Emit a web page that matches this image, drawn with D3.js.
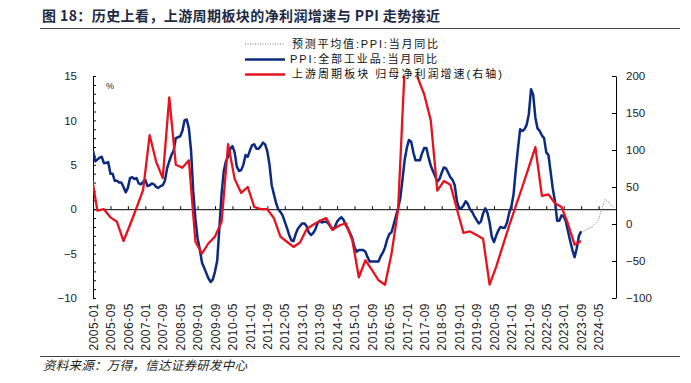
<!DOCTYPE html>
<html><head><meta charset="utf-8">
<script src="https://cdn.jsdelivr.net/npm/d3@7"></script>
<style>
body{margin:0;background:#fff;}
svg{display:block;}
text{font-family:"Liberation Sans",Arial,sans-serif;}
.cjk{font-family:"Noto Sans CJK SC","Noto Sans",sans-serif;}
.leg{font-family:"Liberation Sans","Noto Sans CJK SC",sans-serif;}
</style></head>
<body>
<script>
// ---------- data ----------
const ppiStart = "2005-01";
const ppiValues = [
 6.6,5.4,5.6,5.8,5.9,5.2,5.2,5.3,4.0,4.0,3.2,3.2,
 3.0,3.0,2.5,1.9,2.4,3.5,3.6,3.4,3.5,2.9,2.8,3.1,
 3.3,2.6,2.7,2.9,2.8,2.5,2.4,2.6,2.7,3.2,4.6,5.4,
 6.1,6.6,8.0,8.1,8.2,8.8,10.0,10.1,9.1,6.6,2.0,-1.1,
 -3.3,-4.5,-6.0,-6.6,-7.2,-7.8,-8.2,-7.9,-7.0,-5.8,-2.1,1.7,
 4.3,5.4,5.9,6.8,7.1,6.4,4.8,4.3,4.4,5.0,6.1,5.9,
 6.6,7.2,7.3,6.8,6.8,7.1,7.5,7.3,6.5,5.0,2.7,1.7,
 0.7,0.0,-0.3,-0.7,-1.4,-2.1,-2.9,-3.5,-3.6,-2.8,-2.2,-1.9,
 -1.6,-1.6,-1.9,-2.6,-2.9,-2.7,-2.3,-1.6,-1.3,-1.5,-1.4,-1.4,
 -1.6,-2.0,-2.3,-2.0,-1.4,-1.1,-0.9,-1.2,-1.8,-2.2,-2.7,-3.3,
 -4.3,-4.8,-4.6,-4.6,-4.6,-4.8,-5.4,-5.9,-5.9,-5.9,-5.9,-5.9,
 -5.3,-4.9,-4.3,-3.4,-2.8,-2.6,-1.7,-0.8,0.1,1.2,3.3,5.5,
 6.9,7.8,7.6,6.4,5.5,5.5,5.5,6.3,6.9,6.9,5.8,4.9,
 4.3,3.7,3.1,3.4,4.1,4.7,4.6,4.1,3.6,3.3,2.7,0.9,
 0.1,0.1,0.4,0.9,0.6,0.0,-0.3,-0.8,-1.2,-1.6,-1.4,-0.5,
 0.1,-0.4,-1.5,-3.1,-3.7,-3.0,-2.4,-2.0,-2.1,-2.1,-1.5,-0.4,
 0.3,1.7,4.4,6.8,9.0,8.8,9.0,9.5,10.7,13.5,12.9,10.3,
 9.1,8.8,8.3,8.0,6.4,6.1,4.2,2.3,0.9,-1.3,-1.3,-0.7,
 -0.8,-1.4,-2.5,-3.6,-4.6,-5.4,-4.4,-3.0,-2.5
];
const forecastStart = "2023-09";
const forecastValues = [-2.5,-2.5,-2.4,-2.2,-2.1,-2.0,-1.7,-1.5,-1.2,-0.3,0.4,1.1,0.9,0.7,0.4,0.15];
const profitStart = "2004-12"; // quarterly points
const profitValues = [
 72,18,20,9,3,
 -23,-1,22,46,
 120,84,62,171,
 80,76,86,-24,
 -40,-26,-17,3,
 108,61,42,50,
 23,20,20,8,
 -17,-24,-31,-25,
 -7,-1,4,8,
 -8,-2,1,-22,
 -72,-49,-62,-76,
 -82,-40,19,210,
 280,198,175,140,
 45,58,53,20,
 -12,-10,-15,-20,
 -82,-58,-30,-2,
 24,50,77,104,
 38,40,28,23,
 0,-28,-23
];
const xTickLabels = ["2005-01","2005-09","2006-05","2007-01","2007-09","2008-05","2009-01","2009-09","2010-05","2011-01","2011-09","2012-05","2013-01","2013-09","2014-05","2015-01","2015-09","2016-05","2017-01","2017-09","2018-05","2019-01","2019-09","2020-05","2021-01","2021-09","2022-05","2023-01","2023-09","2024-05"];
const leftTicks = [-10,-5,0,5,10,15];
const rightTicks = [-100,-50,0,50,100,150,200];
const legendLabels = ["预测平均值:PPI:当月同比","PPI:全部工业品:当月同比","上游周期板块 归母净利润增速(右轴)"];
const titleText = "图 18：历史上看，上游周期板块的净利润增速与 PPI 走势接近";
const sourceText = "资料来源：万得，信达证券研发中心";

// ---------- helpers ----------
const mIndex = s => { const [y,m] = s.split("-").map(Number); return (y-2005)*12 + (m-1); };
const series = (start, vals, step) => vals.map((v,i) => ({m: mIndex(start) + i*step, v}));
const ppi = series(ppiStart, ppiValues, 1);
const fc = series(forecastStart, forecastValues, 1);
const profit = series(profitStart, profitValues, 3);

const W = 691, H = 383;
const L = 93, R = 616, T = 76, B = 298;
const x = d3.scaleLinear().domain([0,240]).range([L,R]);
const yL = d3.scaleLinear().domain([-10,15]).range([B,T]);
const yR = d3.scaleLinear().domain([-100,200]).range([B,T]);

const svg = d3.select("body").append("svg").attr("width",W).attr("height",H);

// title
svg.append("text").attr("class","cjk").attr("x",42).attr("y",21)
  .attr("font-size",14).attr("font-weight","bold").attr("fill","#1f2a44")
  .attr("textLength",398).attr("lengthAdjust","spacing").text(titleText);
svg.append("line").attr("x1",40).attr("x2",680).attr("y1",28.5).attr("y2",28.5).attr("stroke","#444").attr("stroke-width",1);

// clip
svg.append("clipPath").attr("id","plot").append("rect").attr("x",L).attr("y",T).attr("width",R-L).attr("height",B-T);

// axes
const gx = svg.append("g").attr("transform",`translate(0,${yL(0)})`)
  .call(d3.axisTop(x).tickValues(xTickLabels.map(mIndex)).tickSize(3).tickSizeOuter(0).tickFormat(""));
const gl = svg.append("g").attr("transform",`translate(${L},0)`)
  .call(d3.axisRight(yL).tickValues(d3.range(-10,16)).tickSize(3).tickSizeOuter(0).tickFormat(""));
const gr = svg.append("g").attr("transform",`translate(${R},0)`)
  .call(d3.axisLeft(yR).tickValues(rightTicks).tickSize(4).tickSizeOuter(0).tickFormat(""));
[gx,gl,gr].forEach(g=>{g.selectAll("path,line").attr("stroke","#000").attr("stroke-width",1);});

// labels
const glab = svg.append("g").attr("transform",`translate(${L},0)`)
  .call(d3.axisLeft(yL).tickValues(leftTicks).tickSize(0).tickPadding(16));
glab.select(".domain").remove();
glab.selectAll("text").attr("font-size",11.5).attr("fill","#222").attr("font-family","Liberation Sans, Arial, sans-serif");
const grlab = svg.append("g").attr("transform",`translate(${R},0)`)
  .call(d3.axisRight(yR).tickValues(rightTicks).tickSize(0).tickPadding(10));
grlab.select(".domain").remove();
grlab.selectAll("text").attr("font-size",11.5).attr("fill","#222").attr("font-family","Liberation Sans, Arial, sans-serif");
const gxl = svg.append("g").attr("transform","translate(0,303)")
  .call(d3.axisBottom(x).tickValues(xTickLabels.map(mIndex)).tickSize(0).tickFormat((d,i)=>xTickLabels[i]));
gxl.select(".domain").remove();
gxl.selectAll("text").attr("transform","rotate(-90)").attr("text-anchor","end")
  .attr("x",0).attr("y",0).attr("dy","0.35em").attr("font-size",12).attr("letter-spacing","0.5px")
  .attr("fill","#222").attr("font-family","Liberation Sans, Arial, sans-serif");

svg.append("text").attr("x",106).attr("y",89).attr("font-size",9).attr("fill","#222").text("%");

// lines
const plot = svg.append("g").attr("clip-path","url(#plot)");
const lineL = d3.line().x(d=>x(d.m)).y(d=>yL(d.v));
const lineR = d3.line().x(d=>x(d.m)).y(d=>yR(d.v));
plot.append("path").datum(fc).attr("d",lineL).attr("fill","none").attr("stroke","#777").attr("stroke-width",1).attr("stroke-dasharray","1,1.5");
plot.append("path").datum(ppi).attr("d",lineL).attr("fill","none").attr("stroke","#0c2a80").attr("stroke-width",2.5).attr("stroke-linejoin","round");
plot.append("path").datum(profit).attr("d",lineR).attr("fill","none").attr("stroke","#e8121f").attr("stroke-width",2.3).attr("stroke-linejoin","round");

// legend
const lg = svg.append("g");
const legY = [44,59.5,74.5];
const legW = [146,147,210];
const legStyle = [
  {stroke:"#777", w:1, dash:"1,1.5"},
  {stroke:"#0c2a80", w:2.5, dash:null},
  {stroke:"#e8121f", w:2.5, dash:null}
];
legendLabels.forEach((t,i)=>{
  lg.append("line").attr("x1",245).attr("x2",285).attr("y1",legY[i]).attr("y2",legY[i])
    .attr("stroke",legStyle[i].stroke).attr("stroke-width",legStyle[i].w).attr("stroke-dasharray",legStyle[i].dash);
  lg.append("text").attr("class","leg").attr("x",i===1?290:292).attr("y",legY[i]).attr("dy","0.36em")
    .attr("font-size",11).attr("fill","#111")
    .attr("textLength",legW[i]).attr("lengthAdjust","spacing").text(t);
});

// footer
svg.append("line").attr("x1",40).attr("x2",680).attr("y1",356.5).attr("y2",356.5).attr("stroke","#444").attr("stroke-width",1);
svg.append("text").attr("class","cjk").attr("x",43).attr("y",370).attr("font-size",12.5)
  .attr("font-style","italic").attr("fill","#222")
  .attr("textLength",204).attr("lengthAdjust","spacing").text(sourceText);
</script>
</body></html>
